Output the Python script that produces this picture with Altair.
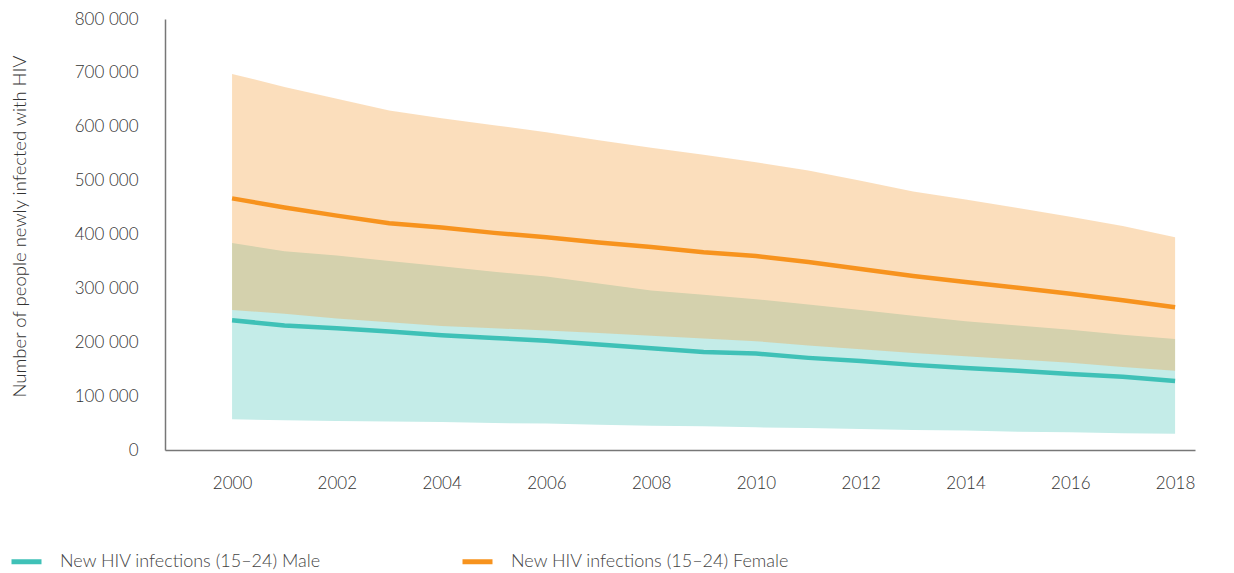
import altair as alt
import pandas as pd

years = list(range(2000, 2019))
male_label = "New HIV infections (15–24) Male"
female_label = "New HIV infections (15–24) Female"

# values in thousands
female_mid = [467, 450, 435, 421, 413, 403, 395, 385, 377, 367, 360, 349, 336, 323, 312, 301, 290, 278, 265]
female_hi = [698, 674, 652, 630, 616, 603, 590, 575, 561, 548, 534, 519, 500, 480, 465, 449, 433, 416, 395]
female_lo = [260, 253, 244, 237, 230, 226, 222, 217, 212, 207, 202, 194, 187, 180, 174, 168, 162, 154, 147]
male_mid = [241, 231, 226, 220, 213, 208, 203, 196, 189, 182, 179, 171, 165, 158, 152, 147, 141, 136, 128]
male_hi = [384, 369, 361, 351, 341, 331, 322, 309, 296, 288, 280, 270, 260, 249, 239, 231, 223, 214, 206]
male_lo = [57, 55, 54, 53, 52, 50, 49, 47, 45, 44, 42, 41, 39, 37, 36, 34, 33, 31, 30]

rows = []
for i, y in enumerate(years):
    rows.append({"year": y, "series": male_label, "mid": male_mid[i] * 1000,
                 "lo": male_lo[i] * 1000, "hi": male_hi[i] * 1000})
    rows.append({"year": y, "series": female_label, "mid": female_mid[i] * 1000,
                 "lo": female_lo[i] * 1000, "hi": female_hi[i] * 1000})
df = pd.DataFrame(rows)

TEAL_LINE = "#3fc1b7"
ORANGE_LINE = "#f7931e"
FONT = "Lato"

xscale = alt.Scale(domain=[1998.72, 2018.38], nice=False, zero=False)
yscale = alt.Scale(domain=[0, 800000], nice=False)

x = alt.X("year:Q", scale=xscale, title=None,
          axis=alt.Axis(values=list(range(2000, 2019, 2)), format="d", ticks=False,
                        grid=False, labelPadding=25, labelFontSize=17, labelColor="#333",
                        labelFont=FONT, labelFontWeight=300, domainColor="#777",
                        domainWidth=1.5, labelFlush=False))
y_axis = alt.Axis(values=list(range(0, 800001, 100000)), ticks=False, grid=False,
                  labelExpr="datum.value == 0 ? '0' : format(floor(datum.value/1000), 'd') + ' 000'",
                  labelPadding=27, labelFontSize=17, labelColor="#333", labelFont=FONT,
                  labelFontWeight=300,
                  domainColor="#777", domainWidth=1.5,
                  title="Number of people newly infected with HIV", titleFont=FONT,
                  titleFontSize=18.5, titleFontWeight=300, titleColor="#333",
                  titleX=-146, titleY=207, titleAngle=270, titleAlign="center",
                  titleBaseline="middle")

base = alt.Chart(df)

male_band = base.transform_filter(alt.datum.series == male_label).mark_area(
    color="#c4ece8", opacity=1
).encode(x=x, y=alt.Y("lo:Q", scale=yscale, axis=y_axis), y2="hi:Q")

female_band = base.transform_filter(alt.datum.series == female_label).mark_area(
    color="#f39d3c", opacity=0.34
).encode(x=x, y=alt.Y("lo:Q", scale=yscale), y2="hi:Q")

lines = base.mark_line(strokeWidth=4.5).encode(
    x=x,
    y=alt.Y("mid:Q", scale=yscale),
    color=alt.Color("series:N",
                    scale=alt.Scale(domain=[male_label, female_label],
                                    range=[TEAL_LINE, ORANGE_LINE]),
                    legend=alt.Legend(title=None, orient="none", direction="horizontal",
                                      legendX=-156, legendY=525,
                                      symbolType="stroke", symbolSize=900,
                                      symbolStrokeWidth=5, labelFontSize=18,
                                      labelFont=FONT, labelFontWeight=300,
                                      labelColor="#444",
                                      labelOffset=16, columnPadding=130,
                                      labelLimit=400)),
)

chart = alt.layer(male_band, female_band, lines).properties(
    width=1030, height=431,
    autosize=alt.AutoSizeParams(type="none"),
    padding={"left": 157, "top": 11, "right": 10, "bottom": 120},
    background="white",
).configure_view(stroke=None)

chart.save("out.html", embed_options={"renderer": "svg", "actions": False})
